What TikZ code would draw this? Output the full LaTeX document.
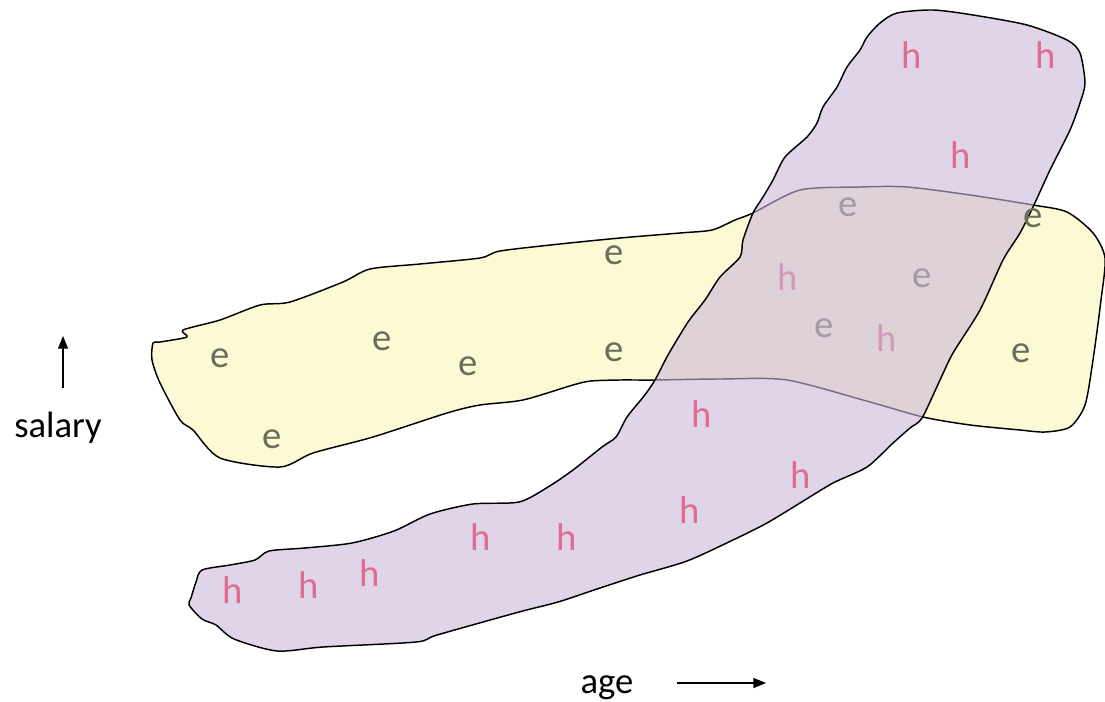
\documentclass[tikz,border=0pt]{standalone}
\usepackage{fontspec}
\setmainfont{Carlito}
\usetikzlibrary{arrows.meta}
\definecolor{yfill}{RGB}{252,249,213}
\definecolor{pfill}{RGB}{203,183,217}
\definecolor{ecol}{RGB}{108,108,90}
\definecolor{hcol}{RGB}{224,108,146}
\tikzset{
  blob/.style={draw=black, line width=1.1pt, line join=round},
  eletter/.style={text=ecol, inner sep=0pt, font=\fontsize{29}{30}\selectfont},
  hletter/.style={text=hcol, inner sep=0pt, font=\fontsize{29}{30}\selectfont},
  axislabel/.style={text=black, inner sep=0pt, font=\fontsize{27.5}{29}\selectfont},
  axisarrow/.style={draw=black, line width=1pt, -{Triangle[length=9.5pt,width=7.5pt]}}
}
\begin{document}
\begin{tikzpicture}[x=0.75pt,y=-0.75pt]
\useasboundingbox (0,0) rectangle (1105,702);
% yellow blob
\draw[blob, fill=yfill] plot[smooth cycle, tension=0.45] coordinates {
(153,343) (160,342) (187,337) (183,330) (220,320) (260,305) (290,302) (343,282) (370,269) (420,264) (480,258) (500,251) (560,244) (620,238) (680,233) (712,230) (735,220) (753,213) (800,190) (860,187) (907,187) (970,195) (1033,205) (1067,212) (1093,233) (1105,258) (1101,300) (1093,360) (1085,405) (1070,427) (1045,432) (1020,430) (970,425) (923,417) (870,402) (787,380) (720,379) (655,380) (620,380) (591,381) (573,385) (523,400) (480,405) (447,413) (373,437) (313,453) (280,467) (220,458) (193,430) (180,420) (160,383) (152,360)};
% letters under the purple blob
\node[eletter] (e7) at (848,207) {e};
\node[eletter] (e8) at (922,278) {e};
\node[eletter] (e9) at (824,328) {e};
\node[hletter] (h4) at (788,277) {h};
\node[hletter] (h5) at (887,338) {h};
% purple blob
\draw[blob, fill=pfill, fill opacity=0.6] plot[smooth cycle, tension=0.45] coordinates {
(880,23) (897,13) (933,10) (973,15) (1027,25) (1067,40) (1080,53) (1085,83) (1080,103) (1070,130) (1050,170) (1033,207) (1020,233) (1003,260) (980,310) (953,353) (940,380) (922,418) (910,428) (893,443) (867,467) (833,483) (800,503) (767,523) (733,540) (687,561) (640,575) (600,588) (558,602) (519,612) (437,635) (416,642) (323,647) (277,651) (234,639) (216,625) (202,619) (189,605) (191,598) (196,582) (202,570) (230,565) (255,560) (269,551) (305,548) (352,543) (394,531) (430,514) (473,504) (519,502) (548,487) (573,470) (602,447) (616,437) (627,417) (644,396) (655,380) (668,355) (688,322) (705,300) (720,277) (740,257) (743,240) (753,213) (763,197) (773,180) (785,157) (807,137) (817,123) (823,107) (837,87) (847,67) (860,50) (867,37)};
% e letters on top
\node[eletter] (e1) at (220,358) {e};
\node[eletter] (e2) at (382,341) {e};
\node[eletter] (e3) at (468,366) {e};
\node[eletter] (e4) at (272,439) {e};
\node[eletter] (e5) at (614,255) {e};
\node[eletter] (e6) at (614,352) {e};
\node[eletter] (e10) at (1033,218) {e};
\node[eletter] (e11) at (1021,353) {e};
% h letters on top
\node[hletter] (h1) at (912,55) {h};
\node[hletter] (h2) at (1046,55) {h};
\node[hletter] (h3) at (961,155) {h};
\node[hletter] (h6) at (702,414) {h};
\node[hletter] (h7) at (801,475) {h};
\node[hletter] (h8) at (690,510) {h};
\node[hletter] (h9) at (481,537) {h};
\node[hletter] (h10) at (567,537) {h};
\node[hletter] (h11) at (370,573) {h};
\node[hletter] (h12) at (309,585) {h};
\node[hletter] (h13) at (233,590) {h};
% axes
\node[axislabel, anchor=base] (sal) at (58,437) {salary};
\node[axislabel, anchor=base] (age) at (607,693) {age};
\coordinate (sbot) at (63,388);
\coordinate (stop) at (63,336);
\coordinate (aleft) at (677,683);
\coordinate (aright) at (766,683);
\draw[axisarrow] (sbot) -- (stop);
\draw[axisarrow] (aleft) -- (aright);
\end{tikzpicture}
\end{document}
